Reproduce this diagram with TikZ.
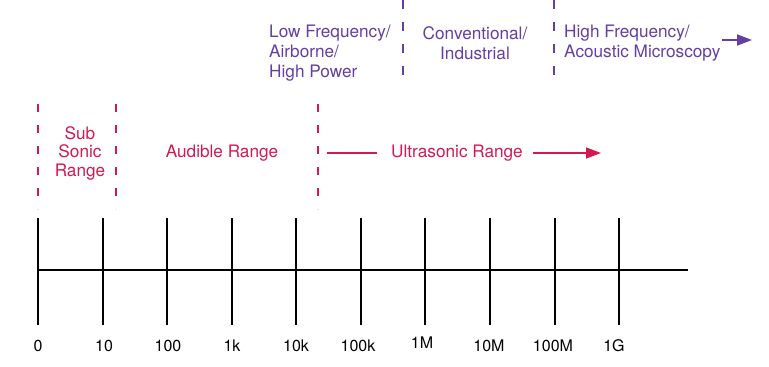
\documentclass[tikz,border=0pt]{standalone}
\usepackage{fontspec}
\setmainfont{TeX Gyre Heros}
\usetikzlibrary{arrows.meta}
\definecolor{sonic}{RGB}{214,24,80}
\definecolor{band}{RGB}{100,62,165}
\tikzset{
  redtext/.style={text=sonic,font=\fontsize{17.2}{18.5}\selectfont,align=center,inner sep=0pt},
  bandtext/.style={text=band,font=\fontsize{17.2}{20}\selectfont,inner sep=0pt},
  ticklabel/.style={font=\fontsize{16}{18}\selectfont,inner sep=0pt},
  redcut/.style={sonic,line width=1.8pt,dash pattern=on 8pt off 13pt},
  bandcut/.style={band,line width=1.8pt,dash pattern=on 9pt off 13pt},
  tip/.style={-{Triangle[length=15pt,width=11pt]}}
}
\begin{document}
\begin{tikzpicture}[x=1pt,y=-1pt]
    \useasboundingbox (0,0) rectangle (769,367);
    % band texts
    \node[bandtext,anchor=west,align=left] (low) at (269,53) {Low Frequency/\\Airborne/\\High Power};
    \node[bandtext,align=center] (conv) at (475,43) {Conventional/\\Industrial};
    \node[bandtext,anchor=west,align=left] (high) at (564,43) {High Frequency/\\Acoustic Microscopy};
    \coordinate (ha) at (722,40);
    \coordinate (hb) at (752,40);
    \draw[band,line width=1.6pt,tip] (ha) -- (hb);
    % band cuts
    \coordinate (b1t) at (403,0);
    \coordinate (b1b) at (403,80);
    \coordinate (b2t) at (554,0);
    \coordinate (b2b) at (554,80);
    \draw[bandcut] (b1t) -- (b1b);
    \draw[bandcut] (b2t) -- (b2b);
    % range texts
    \node[redtext] (sub) at (80,153) {Sub\\Sonic\\Range};
    \node[redtext] (aud) at (222,153) {Audible Range};
    \node[redtext] (ultra) at (457,153) {Ultrasonic Range};
    \coordinate (ua) at (327,153);
    \coordinate (ub) at (601,153);
    \draw[sonic,line width=1.6pt] (ua) -- ([xshift=-14pt]ultra.west);
    \draw[sonic,line width=1.6pt,tip] ([xshift=10pt]ultra.east) -- (ub);
    % range cuts
    \coordinate (r1t) at (38,104);
    \coordinate (r1b) at (38,209);
    \coordinate (r2t) at (116,104);
    \coordinate (r2b) at (116,209);
    \coordinate (r3t) at (318,104);
    \coordinate (r3b) at (318,209);
    \draw[redcut] (r1t) -- (r1b);
    \draw[redcut] (r2t) -- (r2b);
    \draw[redcut] (r3t) -- (r3b);
    % axis
    \coordinate (axl) at (38,270);
    \coordinate (axr) at (688,270);
    \draw[line width=1.5pt] (axl) -- (axr);
    \foreach \i/\x in {0/38,1/103,2/167,3/232,4/296,5/361,6/425,7/490,8/555,9/619} {
      \coordinate (tt\i) at (\x,218);
      \coordinate (tb\i) at (\x,325);
      \draw[line width=1.3pt] (tt\i) -- (tb\i);
    }
    % tick labels
    \node[ticklabel] (l0) at (38,346) {0};
    \node[ticklabel] (l1) at (104,346) {10};
    \node[ticklabel] (l2) at (168,346) {100};
    \node[ticklabel] (l3) at (232,346) {1k};
    \node[ticklabel] (l4) at (296,346) {10k};
    \node[ticklabel] (l5) at (358,346) {100k};
    \node[ticklabel] (l6) at (422,343) {1M};
    \node[ticklabel] (l7) at (489,346) {10M};
    \node[ticklabel] (l8) at (553,346) {100M};
    \node[ticklabel] (l9) at (614,346) {1G};
\end{tikzpicture}
\end{document}
